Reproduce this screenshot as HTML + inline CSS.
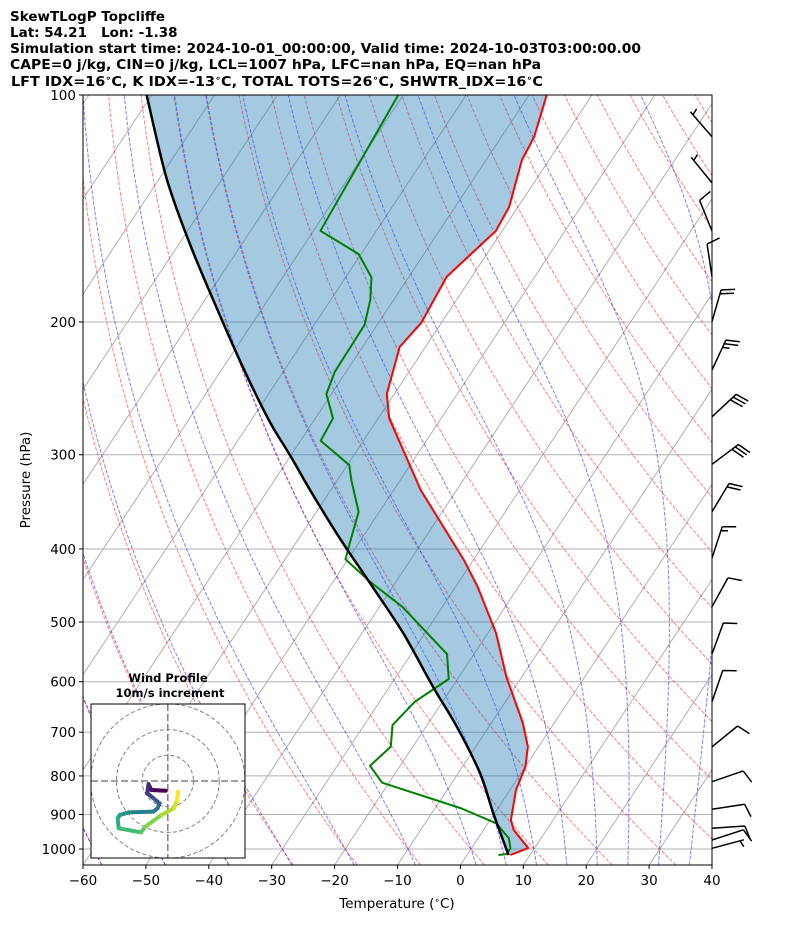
<!DOCTYPE html>
<html><head><meta charset="utf-8">
<style>
html,body{margin:0;padding:0;background:#fff;}
svg{display:block;font-family:"DejaVu Sans","Liberation Sans",sans-serif;}
</style></head>
<body>
<svg id="chart" width="794" height="937" viewBox="0 0 794 937" xmlns="http://www.w3.org/2000/svg">
  <g font-weight="bold" font-size="13.5" fill="#000">
    <text x="10" y="21">SkewTLogP Topcliffe</text>
    <text x="10" y="37" xml:space="preserve">Lat: 54.21   Lon: -1.38</text>
    <text x="10" y="53" textLength="631" lengthAdjust="spacingAndGlyphs">Simulation start time: 2024-10-01_00:00:00, Valid time: 2024-10-03T03:00:00.00</text>
    <text x="10" y="69" textLength="531" lengthAdjust="spacingAndGlyphs">CAPE=0 j/kg, CIN=0 j/kg, LCL=1007 hPa, LFC=nan hPa, EQ=nan hPa</text>
    <text x="11" y="86" textLength="532" lengthAdjust="spacingAndGlyphs">LFT IDX=16<tspan font-size="9" dy="-5">∘</tspan><tspan dy="5">C, K IDX=-13</tspan><tspan font-size="9" dy="-5">∘</tspan><tspan dy="5">C, TOTAL TOTS=26</tspan><tspan font-size="9" dy="-5">∘</tspan><tspan dy="5">C, SHWTR_IDX=16</tspan><tspan font-size="9" dy="-5">∘</tspan><tspan dy="5">C</tspan></text>
  </g>
  <defs><clipPath id="plotclip"><rect x="83" y="95" width="629" height="770"/></clipPath></defs>
  <g id="bg" clip-path="url(#plotclip)"></g>
  <g id="series" clip-path="url(#plotclip)"></g>
  <rect x="83" y="95" width="629" height="770" fill="none" stroke="#000" stroke-width="1"/>
  <g id="axes" font-size="13.5"></g>
  <g id="barbs"></g>
  <g id="hodo"></g>
  <text x="0" y="0" font-size="13.5" text-anchor="middle" transform="translate(30,480) rotate(-90)">Pressure (hPa)</text>
  <text x="397" y="908" font-size="13.5" text-anchor="middle">Temperature (<tspan font-size="9" dy="-5">∘</tspan><tspan dy="5">C)</tspan></text>
</svg>
<script>
// ---- data ----
const tempP = [100,113.6,122,140.8,151.4,174.2,200.6,215.8,249.2,268.2,334.2,366.3,413.7,449,517.2,590.7,680.6,731.8,777.8,835.1,915.3,943.6,997,1018.5];
const tempT = [-67.2,-64.8,-64.3,-61.4,-61.0,-64.0,-63.2,-64.1,-61.2,-58.3,-45.7,-39.6,-31.5,-26.5,-18.7,-12.5,-5.0,-1.7,0.0,0.95,3.3,4.8,9.0,6.9];
const dewP = [100,151.4,162.5,174.5,187,201.8,216.8,232.8,249.2,268.4,287.4,309.6,324.1,357.1,393.2,412.8,441.8,477.1,551.3,595,637.8,684.8,731.8,775.5,816.6,883.3,924.6,967.8,997.9,1015.4,1018.5];
const dewT = [-90.8,-88.9,-80.4,-75.9,-73.7,-72.0,-71.9,-71.8,-70.8,-67.2,-66.8,-59.7,-57.8,-53.3,-51.4,-50.4,-44.2,-36.4,-24.3,-21.4,-24.4,-25.5,-23.5,-24.8,-21.1,-5.8,1.3,4.9,6.2,6.2,5.0];
const parcelP = [100,128.9,158.1,191.9,230.4,271.2,300.2,339.3,387.2,444,517.7,609.2,688.4,793.7,896.7,1018.5];
const parcelT = [-130.8,-118.9,-108.1,-97.2,-86.7,-76.9,-70.2,-62.3,-53.5,-44.0,-33.4,-23.1,-15.1,-6.5,-0.2,6.6];
const pTicks = [100,200,300,400,500,600,700,800,900,1000];
const tTicks = [-60,-50,-40,-30,-20,-10,0,10,20,30,40];
const barbP = [113.6,130.8,151.5,174.2,199.8,231.6,267.2,308.9,357.1,411.5,477.1,551.3,637.8,731.8,814.2,885.9,938.8,972.9,997.9];
const barbDir = [-41,-39,-22,-8.5,16,25,47,53,31,18,29,20,19,51,71,81,86,72,75];
const barbN = [0.5,0.5,1,1,2,2.5,3,3,2,1.5,1,1,1,1,1,1,1,1,0.5];
const hodoU = [-0.8,-6.4,-7.5,-8.0,-5.6,-3.2,-4.0,-5.6,-15.1,-18.6,-19.5,-19.1,-10.4,-8.8,-2.4,2.4,3.6,4.0];
const hodoV = [-3.8,-3.5,-1.2,-4.8,-6.7,-8.7,-10.6,-11.9,-12.2,-13.2,-14.5,-18.4,-20,-17.8,-13.2,-10.6,-7.4,-4.2];

// ---- axis functions ----
const NS='http://www.w3.org/2000/svg';
const X0=83, X1=712, YB=865, Y1000=849, DEC=754, SK=0.661, PXC=6.29;
function yP(p){ return Y1000 - DEC*Math.log10(1000/p); }
function xT(T,p){ const y=yP(p); return X0 + (T+60)*PXC + SK*(YB-y); }
function mk(tag, attrs, parent){ const e=document.createElementNS(NS,tag); for(const k in attrs) e.setAttribute(k,attrs[k]); parent.appendChild(e); return e; }
const bg=document.getElementById('bg'), series=document.getElementById('series'), axes=document.getElementById('axes');

pTicks.forEach(p=>{
  const l=mk('line',{x1:X0,x2:X1,y1:yP(p),y2:yP(p),stroke:'#b0b0b0','stroke-width':1},bg);
  
  
});
for(let T=-200; T<=40; T+=10){
  const l=mk('line',{x1:xT(T,1050),y1:yP(1050),x2:xT(T,100),y2:yP(100),stroke:'#b0b0b0','stroke-width':1},bg);
  
  
}
const pLev=[]; for(let lp=Math.log(1050); lp>=Math.log(100)-1e-9; lp-=(Math.log(1050)-Math.log(100))/80) pLev.push(Math.exp(lp));
for(let th=-60; th<=240; th+=10){
  const d=pLev.map((p,i)=>(i?'L':'M')+xT((th+273.15)*Math.pow(p/1000,0.2857)-273.15,p).toFixed(1)+','+yP(p).toFixed(1)).join('');
  const e=mk('path',{d:d,fill:'none',stroke:'rgba(255,0,0,0.5)','stroke-width':1,'stroke-dasharray':'3.7,1.6'},bg);
  
  
}
function dTdp(p,T){ const es=6.112*Math.exp(17.67*(T-273.15)/(T-29.65)); const rs=0.622*es/(p-es);
  const Rd=287.04,Cp=1005.7,Lv=2.501e6; return (Rd*T+Lv*rs)/(Cp+Lv*Lv*rs*0.622/(Rd*T*T))/p; }
function integ(T0,p0,p1,n){ const pts=[[p0,T0]]; let T=T0,p=p0; const h=(p1-p0)/n;
  for(let i=0;i<n;i++){ const k1=dTdp(p,T),k2=dTdp(p+h/2,T+h/2*k1),k3=dTdp(p+h/2,T+h/2*k2),k4=dTdp(p+h,T+h*k3);
    T+=h/6*(k1+2*k2+2*k3+k4); p+=h; pts.push([p,T]); } return pts; }
const moistT0=[-60,-50,-40,-30,-20,-10,0,5,10,15,20,25,30,35,40];
moistT0.forEach(t0=>{
  const up=integ(t0+273.15,1000,100,180), dn=integ(t0+273.15,1000,1050,10);
  const pts=dn.reverse().concat(up.slice(1));
  const d=pts.map((q,i)=>(i?'L':'M')+xT(q[1]-273.15,q[0]).toFixed(1)+','+yP(q[0]).toFixed(1)).join('');
  const e=mk('path',{d:d,fill:'none',stroke:'rgba(0,0,255,0.5)','stroke-width':1,'stroke-dasharray':'3.7,1.6'},bg);
  
  
});

function smooth(pts){ let d='M'+pts[0][0].toFixed(1)+','+pts[0][1].toFixed(1);
  for(let i=0;i<pts.length-1;i++){ const p0=pts[Math.max(0,i-1)],p1=pts[i],p2=pts[i+1],p3=pts[Math.min(pts.length-1,i+2)];
    d+='C'+(p1[0]+(p2[0]-p0[0])/6).toFixed(1)+','+(p1[1]+(p2[1]-p0[1])/6).toFixed(1)+' '+(p2[0]-(p3[0]-p1[0])/6).toFixed(1)+','+(p2[1]-(p3[1]-p1[1])/6).toFixed(1)+' '+p2[0].toFixed(1)+','+p2[1].toFixed(1); }
  return d; }
const parcelPts=parcelP.map((p,i)=>[xT(parcelT[i],p),yP(p)]);
const tempPts=tempP.map((p,i)=>[xT(tempT[i],p),yP(p)]);
const dewPts=dewP.map((p,i)=>[xT(dewT[i],p),yP(p)]);
const fillD=smooth(parcelPts)+tempPts.slice().reverse().map(q=>'L'+q[0].toFixed(1)+','+q[1].toFixed(1)).join('')+'Z';
const fill=mk('path',{d:fillD,fill:'rgba(31,119,180,0.4)',stroke:'none'},series);


const tl=mk('polyline',{points:tempPts.map(q=>q.join(',')).join(' '),fill:'none',stroke:'#ff0000','stroke-width':2,'stroke-linejoin':'round'},series);


const dl=mk('polyline',{points:dewPts.map(q=>q.join(',')).join(' '),fill:'none',stroke:'#008000','stroke-width':2,'stroke-linejoin':'round'},series);


const pl=mk('path',{d:smooth(parcelPts),fill:'none',stroke:'#000','stroke-width':2.5},series);



pTicks.forEach(p=>{
  const y=yP(p);
  const t=mk('line',{x1:X0-4,x2:X0,y1:y,y2:y,stroke:'#000','stroke-width':1},axes);
  
  
  const lb=mk('text',{x:X0-7,y:y+5,'text-anchor':'end'},axes); lb.textContent=p;
  
  
});
tTicks.forEach(T=>{
  const x=X0+(T+60)*PXC;
  const t=mk('line',{x1:x,x2:x,y1:YB,y2:YB+4,stroke:'#000','stroke-width':1},axes);
  
  
  const lb=mk('text',{x:x,y:YB+20,'text-anchor':'middle'},axes); lb.textContent=(T<0?'\u2212'+(-T):T);
  
  
});

const barbs=document.getElementById('barbs');
barbP.forEach((p,i)=>{
  const bx=X1, by=yP(p), a=barbDir[i]*Math.PI/180, L=33;
  const ux=Math.sin(a), uy=-Math.cos(a);
  const tx=bx+ux*L, ty=by+uy*L;
  const b=(barbDir[i]+72)*Math.PI/180, vx=Math.sin(b), vy=-Math.cos(b);
  let d='M'+bx.toFixed(1)+','+by.toFixed(1)+'L'+tx.toFixed(1)+','+ty.toFixed(1);
  const nFull=Math.floor(barbN[i]), half=barbN[i]-nFull>0;
  let k=0;
  for(;k<nFull;k++){ const sx=tx-ux*4*k, sy=ty-uy*4*k; d+='M'+sx.toFixed(1)+','+sy.toFixed(1)+'l'+(vx*14).toFixed(1)+','+(vy*14).toFixed(1); }
  if(half){ const kk=(nFull===0)?1:k; const sx=tx-ux*4*kk, sy=ty-uy*4*kk; d+='M'+sx.toFixed(1)+','+sy.toFixed(1)+'l'+(vx*7).toFixed(1)+','+(vy*7).toFixed(1); }
  const e=mk('path',{d:d,fill:'none',stroke:'#000','stroke-width':1.5},barbs);
  
  
});

const hodo=document.getElementById('hodo');
const HX=167.8, HY=781, HS=2.57;
const t1=mk('text',{x:168,y:682,'text-anchor':'middle','font-size':11.5,'font-weight':'bold'},hodo); t1.textContent='Wind Profile';


const t2=mk('text',{x:170,y:697,'text-anchor':'middle','font-size':11.5,'font-weight':'bold'},hodo); t2.textContent='10m/s increment';


const cp=mk('clipPath',{id:'hclip'},hodo);
mk('rect',{x:91,y:704,width:154,height:154},cp);
const hg=mk('g',{'clip-path':'url(#hclip)'},hodo);
const hbg=mk('rect',{x:91,y:704,width:154,height:154,fill:'#fff'},hg);


[10,20,30].forEach(r=>{
  const c=mk('circle',{cx:HX,cy:HY,r:r*HS,fill:'none',stroke:'#808080','stroke-width':1,'stroke-dasharray':'4,2.5'},hg);
  
  
});
const hv=mk('line',{x1:HX,x2:HX,y1:704,y2:858,stroke:'#808080','stroke-width':1.5,'stroke-dasharray':'7,3'},hg);


const hh=mk('line',{x1:91,x2:245,y1:HY,y2:HY,stroke:'#808080','stroke-width':1.5,'stroke-dasharray':'7,3'},hg);


const vir=[[68,1,84],[72,40,120],[62,74,137],[49,104,142],[38,130,142],[31,158,137],[53,183,121],[109,205,89],[180,222,44],[253,231,37]];
function virC(t){ const f=t*(vir.length-1), i=Math.min(vir.length-2,Math.floor(f)), r=f-i; const c=vir[i].map((v,j)=>Math.round(v+(vir[i+1][j]-v)*r)); return 'rgb('+c.join(',')+')'; }
for(let i=0;i<hodoU.length-1;i++){
  const s=mk('line',{x1:HX+hodoU[i]*HS,y1:HY-hodoV[i]*HS,x2:HX+hodoU[i+1]*HS,y2:HY-hodoV[i+1]*HS,stroke:virC(i/(hodoU.length-2)),'stroke-width':4,'stroke-linecap':'round'},hg);
  
  
}
const hf=mk('rect',{x:91,y:704,width:154,height:154,fill:'none',stroke:'#000','stroke-width':1},hodo);


</script>
</body></html>
